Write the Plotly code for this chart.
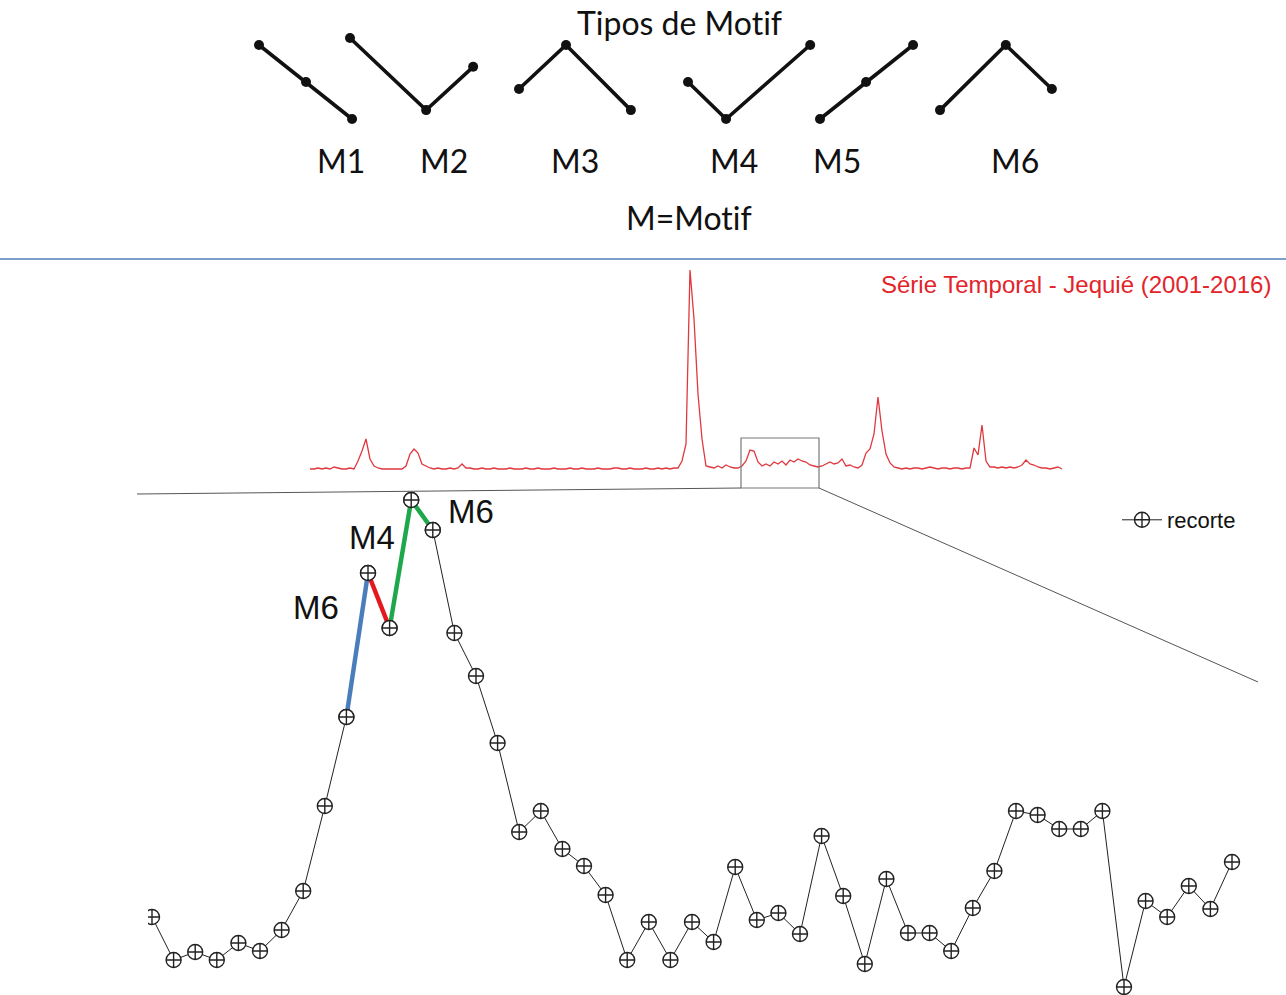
import plotly.graph_objects as go

W, H = 1286, 995

# ---------------- data ----------------
motif_names = ["M1", "M2", "M3", "M4", "M5", "M6"]
# time steps of the three points of each motif (schematic units)
motif_steps = {
    "M1": [0, 1, 1.98],
    "M2": [0, 1.62, 2.62],
    "M3": [0, 1, 2.38],
    "M4": [0, 0.81, 2.6],
    "M5": [0, 0.98, 1.98],
    "M6": [0, 1.4, 2.38],
}
# level of the three points of each motif
motif_levels = {
    "M1": [2, 1, 0],
    "M2": [2.19, 0.24, 1.41],
    "M3": [0.81, 2, 0.24],
    "M4": [1, 0, 2],
    "M5": [0, 1, 2],
    "M6": [0.24, 2, 0.81],
}

# full time series (Jequié 2001-2016)
serie_jequie = [
    0, 0, 1, 0, 1, 0, 2, 1, 0, 0,
    1, 0, 8, 18, 30, 10, 3, 1, 0, 0,
    0, 0, 0, 0, 3, 15, 20, 16, 5, 3,
    1, 0, 1, 0, 0, 1, 0, 1, 5, 1,
    1, 0, 0, 1, 0, 0, 1, 0, 0, 0,
    1, 0, 0, 0, 1, 0, 0, 1, 0, 0,
    0, 1, 0, 0, 0, 1, 0, 0, 1, 0,
    0, 0, 1, 0, 0, 0, 1, 1, 0, 0,
    1, 0, 0, 0, 1, 0, 0, 1, 0, 1,
    0, 1, 1, 8, 25, 199, 150, 75, 30, 3,
    2, 1, 3, 1, 4, 2, 1, 1, 3, 8,
    19, 18, 7, 3, 5, 3, 7, 5, 8, 4,
    9, 7, 10, 8, 7, 4, 3, 2, 3, 5,
    7, 5, 6, 10, 3, 4, 2, 1, 4, 16,
    20, 35, 72, 38, 15, 6, 2, 1, 0, 1,
    0, 1, 1, 0, 1, 2, 1, 0, 1, 1,
    0, 1, 1, 0, 1, 1, 21, 14, 44, 8,
    2, 2, 1, 2, 1, 2, 1, 2, 4, 9,
    5, 4, 2, 1, 1, 0, 1, 2, 0,
]

# zoomed excerpt ("recorte")
recorte = [
    83, 40, 48, 40, 57, 49, 70, 109, 194, 283,
    427, 372, 500, 470, 367, 324, 257, 168, 189, 151,
    134, 105, 40, 78, 40, 78, 58, 133, 80, 87,
    66, 164, 104, 36, 121, 67, 67, 49, 92, 129,
    189, 185, 171, 171, 189, 13, 99, 83, 114, 91,
    138,
]
recorte_idx = list(range(1, len(recorte) + 1))

# highlighted motifs on the excerpt: (label, first index, last index)
motif_hits = [("M6", 10, 11), ("M4", 11, 12), ("M6", 12, 14)]

# ---------------- styling / layout ----------------
hit_colors = ["#4a7ebb", "#e3191f", "#1ea84b"]
hit_label_px = [(316, 607), (372, 537), (471, 511)]
motif_origin_px = {"M1": 259, "M2": 350, "M3": 519, "M4": 688, "M5": 820, "M6": 940}
motif_unit_px = 47
motif_label_px = {"M1": 341, "M2": 444, "M3": 575, "M4": 734, "M5": 837, "M6": 1015}

CAL = "Lato, Carlito, Calibri, sans-serif"
ARIAL = "Liberation Sans, Arial, sans-serif"
ZWNJ = "\u200c"  # prevents the 'ti' ligature


def px(xp):
    return xp / W


def py(yp):
    return 1 - yp / H


fig = go.Figure()

# motifs (axis x / y)
for m in motif_names:
    xs = [motif_origin_px[m] + s * motif_unit_px for s in motif_steps[m]]
    fig.add_trace(go.Scatter(
        x=xs, y=motif_levels[m], mode="lines+markers",
        line=dict(color="#111111", width=3.6),
        marker=dict(color="#111111", size=10),
        xaxis="x", yaxis="y", showlegend=False, hoverinfo="skip"))

# full series (axis x2 / y2)
fig.add_trace(go.Scatter(
    x=list(range(len(serie_jequie))), y=serie_jequie, mode="lines",
    line=dict(color="#e0383e", width=1.3),
    xaxis="x2", yaxis="y2", showlegend=False, hoverinfo="skip"))

marker_style = dict(symbol="circle-cross", size=15, color="white",
                    line=dict(color="#222222", width=1.4))

# excerpt (axis x3 / y3)
fig.add_trace(go.Scatter(
    x=recorte_idx, y=recorte, mode="lines+markers", name="recorte",
    line=dict(color="#222222", width=1),
    marker=marker_style,
    xaxis="x3", yaxis="y3", showlegend=True))

for (lab, a, b), col in zip(motif_hits, hit_colors):
    fig.add_trace(go.Scatter(
        x=recorte_idx[a - 1:b], y=recorte[a - 1:b], mode="lines",
        line=dict(color=col, width=4.5),
        xaxis="x3", yaxis="y3", showlegend=False, hoverinfo="skip"))

fig.add_trace(go.Scatter(
    x=recorte_idx[9:14], y=recorte[9:14], mode="markers",
    marker=marker_style,
    xaxis="x3", yaxis="y3", showlegend=False, hoverinfo="skip"))

annotations = [
    dict(text="Tipos de Mot" + ZWNJ + "if", x=px(679), y=py(22), font=dict(family=CAL, size=32, color="#111")),
    dict(text="M=Mot" + ZWNJ + "if", x=px(689), y=py(217), font=dict(family=CAL, size=32, color="#111")),
    dict(text="Série Temporal - Jequié (2001-2016)", x=px(1076), y=py(284),
         font=dict(family=ARIAL, size=24, color="#e3242b")),
]
for m in motif_names:
    annotations.append(dict(text=m, x=px(motif_label_px[m]), y=py(160),
                            font=dict(family=CAL, size=32, color="#111")))
for (lab, a, b), (lx, ly) in zip(motif_hits, hit_label_px):
    annotations.append(dict(text=lab, x=px(lx), y=py(ly),
                            font=dict(family=ARIAL, size=33, color="#111")))
for a in annotations:
    a.update(xref="paper", yref="paper", showarrow=False, xanchor="center", yanchor="middle")

shapes = [
    dict(type="line", xref="paper", yref="paper", x0=0, x1=1, y0=py(259), y1=py(259),
         line=dict(color="#4f81bd", width=1.5)),
    dict(type="rect", xref="x2", yref="y2", x0=(741 - 310) / 4, x1=(819 - 310) / 4,
         y0=469 - 488, y1=469 - 438, line=dict(color="#777777", width=1.2)),
    dict(type="line", xref="paper", yref="paper", x0=px(137), y0=py(494), x1=px(741), y1=py(488),
         line=dict(color="#555555", width=1)),
    dict(type="line", xref="paper", yref="paper", x0=px(819), y0=py(488), x1=px(1258), y1=py(682),
         line=dict(color="#555555", width=1)),
]

hidden = dict(visible=False, fixedrange=True)
fig.update_layout(
    width=W, height=H, margin=dict(l=0, r=0, t=0, b=0),
    paper_bgcolor="white", plot_bgcolor="rgba(0,0,0,0)",
    xaxis=dict(domain=[0, 1], range=[0, W], **hidden),
    yaxis=dict(domain=[py(259), 1], range=[(119 - 259) / 37, 119 / 37], **hidden),
    xaxis2=dict(domain=[0, 1], range=[-310 / 4, (W - 310) / 4], anchor="y2", **hidden),
    yaxis2=dict(domain=[0, 1], range=[469 - H, 469], anchor="x2", **hidden),
    xaxis3=dict(domain=[px(148), 1], range=[1 + (148 - 152) / 21.6, 1 + (W - 152) / 21.6], anchor="y3", **hidden),
    yaxis3=dict(domain=[0, 1], range=[1000 - H, 1000], anchor="x3", **hidden),
    annotations=annotations, shapes=shapes,
    legend=dict(x=px(1117), y=py(520), xanchor="left", yanchor="middle", itemwidth=40,
                font=dict(family=ARIAL, size=22, color="#111"), bgcolor="rgba(0,0,0,0)"),
)

fig.write_html("out.html")
